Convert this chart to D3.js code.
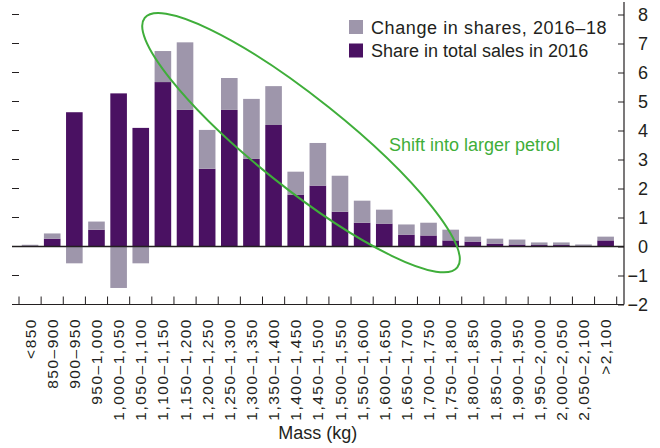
<!DOCTYPE html>
<html>
<head>
<meta charset="utf-8">
<script src="https://cdn.jsdelivr.net/npm/d3@7"></script>
<style>
  body { margin: 0; background: #fff; }
  svg text { font-family: "Liberation Sans Narrow", "Arial Narrow", "Liberation Sans", sans-serif; font-stretch: condensed; fill: #231f20; }
</style>
</head>
<body>
<script>
"use strict";
// mass bands (kg)
const categories = ["<850", "850–900", "900–950", "950–1,000", "1,000–1,050", "1,050–1,100",
  "1,100–1,150", "1,150–1,200", "1,200–1,250", "1,250–1,300", "1,300–1,350", "1,350–1,400",
  "1,400–1,450", "1,450–1,500", "1,500–1,550", "1,550–1,600", "1,600–1,650", "1,650–1,700",
  "1,700–1,750", "1,750–1,800", "1,800–1,850", "1,850–1,900", "1,900–1,950", "1,950–2,000",
  "2,000–2,050", "2,050–2,100", ">2,100"]
// share in total sales in 2016 (percent)
const share2016 = [0.01, 0.27, 4.63, 0.58, 5.28, 4.09, 5.67, 4.71, 2.68, 4.71, 3.02, 4.19,
  1.79, 2.10, 1.20, 0.82, 0.79, 0.41, 0.38, 0.21, 0.17, 0.10, 0.07, 0.05, 0.05, 0.01, 0.21]
// change in shares 2016-18 (percentage points)
const change = [0.05, 0.18, -0.58, 0.28, -1.43, -0.58, 1.07, 2.33, 1.34, 1.10, 2.07, 1.34,
  0.79, 1.47, 1.24, 0.76, 0.48, 0.35, 0.44, 0.37, 0.17, 0.17, 0.17, 0.09, 0.09, 0.06, 0.13]
const yTicks = [-2, -1, 0, 1, 2, 3, 4, 5, 6, 7, 8]
const legendLabels = ["Change in shares, 2016–18", "Share in total sales in 2016"]
const annotation = "Shift into larger petrol"

const measurements = { width: 660, height: 448, left: 19, right: 616.7, top: 14.5, bottom: 304.5, axisX: 624, lineLeft: 12 }
const colors = { share: "#4a1162", change: "#9e96ab", green: "#3fae3a", ink: "#231f20" }

const svg = d3.select("body").append("svg")
  .attr("width", measurements.width)
  .attr("height", measurements.height)

const x = d3.scaleBand()
  .domain(categories)
  .range([measurements.left, measurements.right])
  .paddingInner(0.25)
  .paddingOuter(0.125)

const y = d3.scaleLinear()
  .domain([-2, 8])
  .range([measurements.bottom, measurements.top])

const rows = categories.map((c, i) => ({ cat: c, share: share2016[i], change: change[i] }))

// bars: share from 0, change stacked on top (or hanging below zero if negative)
svg.append("g").selectAll("rect")
  .data(rows)
  .join("rect")
  .attr("x", d => x(d.cat))
  .attr("width", x.bandwidth())
  .attr("y", d => y(d.share))
  .attr("height", d => y(0) - y(d.share))
  .attr("fill", colors.share)

svg.append("g").selectAll("rect")
  .data(rows)
  .join("rect")
  .attr("x", d => x(d.cat))
  .attr("width", x.bandwidth())
  .attr("y", d => d.change >= 0 ? y(d.share + d.change) : y(0))
  .attr("height", d => d.change >= 0 ? y(d.share) - y(d.share + d.change) : y(d.change) - y(0))
  .attr("fill", colors.change)

// zero line
svg.append("line")
  .attr("x1", measurements.lineLeft).attr("x2", measurements.axisX)
  .attr("y1", y(0)).attr("y2", y(0))
  .attr("stroke", colors.ink).attr("stroke-width", 1.5)

// right axis
const yAxis = d3.axisRight(y).tickValues(yTicks).tickSize(0).tickPadding(0)
  .tickFormat(d => d < 0 ? "−" + Math.abs(d) : d)
const gy = svg.append("g")
  .attr("transform", `translate(${measurements.axisX},0)`)
  .call(yAxis)
gy.select(".domain").remove()
gy.selectAll("text")
  .attr("x", 24).attr("text-anchor", "end")
  .style("font-size", "18px").attr("fill", colors.ink)
gy.selectAll(".tick").append("line")
  .attr("x1", -6).attr("x2", 0).attr("stroke", colors.ink).attr("stroke-width", 1)
gy.append("line")
  .attr("y1", 2).attr("y2", measurements.bottom)
  .attr("stroke", colors.ink).attr("stroke-width", 1.2)

// left dashes
svg.append("g").selectAll("line")
  .data(yTicks.filter(t => t !== 0 && t !== -2))
  .join("line")
  .attr("x1", measurements.lineLeft).attr("x2", measurements.left)
  .attr("y1", d => y(d)).attr("y2", d => y(d))
  .attr("stroke", colors.ink).attr("stroke-width", 1)

// bottom axis
const boundaries = categories.map(c => x(c) - x.step() * x.paddingInner() / 2)
boundaries.push(measurements.right)
const gx = svg.append("g")
gx.append("line")
  .attr("x1", measurements.lineLeft).attr("x2", measurements.axisX)
  .attr("y1", measurements.bottom).attr("y2", measurements.bottom)
  .attr("stroke", colors.ink).attr("stroke-width", 1.2)
gx.selectAll(".bt")
  .data(boundaries)
  .join("line")
  .attr("class", "bt")
  .attr("x1", d => d).attr("x2", d => d)
  .attr("y1", measurements.bottom - 8).attr("y2", measurements.bottom)
  .attr("stroke", colors.ink).attr("stroke-width", 1)
gx.selectAll("text")
  .data(categories)
  .join("text")
  .attr("transform", d => `translate(${x(d) + x.bandwidth() / 2},318) rotate(-90)`)
  .attr("dy", "0.36em")
  .attr("text-anchor", "end")
  .style("font-size", "15.5px")
  .style("letter-spacing", "1.5px")
  .text(d => d)

svg.append("text")
  .attr("x", (measurements.left + measurements.right) / 2)
  .attr("y", 439)
  .attr("text-anchor", "middle")
  .style("font-size", "18px")
  .text("Mass (kg)")

// legend
const legend = svg.append("g").attr("transform", "translate(349,20)")
const legendColors = [colors.change, colors.share]
legendLabels.forEach((label, i) => {
  legend.append("rect").attr("x", 0).attr("y", i * 23.5).attr("width", 14).attr("height", 14)
    .attr("fill", legendColors[i])
  legend.append("text").attr("x", 22).attr("y", i * 23.5 + 13.5)
    .style("font-size", "18px").style("letter-spacing", i === 0 ? "0.6px" : "0px").text(label)
})

// annotation ellipse and text
const xIdx = d3.scaleLinear().domain([0, categories.length]).range([measurements.left, measurements.right])
const cx = xIdx(12.74), cy = y(3.58)
svg.append("ellipse")
  .attr("cx", 0).attr("cy", 0).attr("rx", 200).attr("ry", 45)
  .attr("transform", `translate(${cx},${cy}) rotate(38.6)`)
  .attr("fill", "none").attr("stroke", colors.green).attr("stroke-width", 2)
svg.append("text")
  .attr("x", 389).attr("y", 151)
  .style("font-size", "18px").style("fill", colors.green)
  .text(annotation)
</script>
</body>
</html>
